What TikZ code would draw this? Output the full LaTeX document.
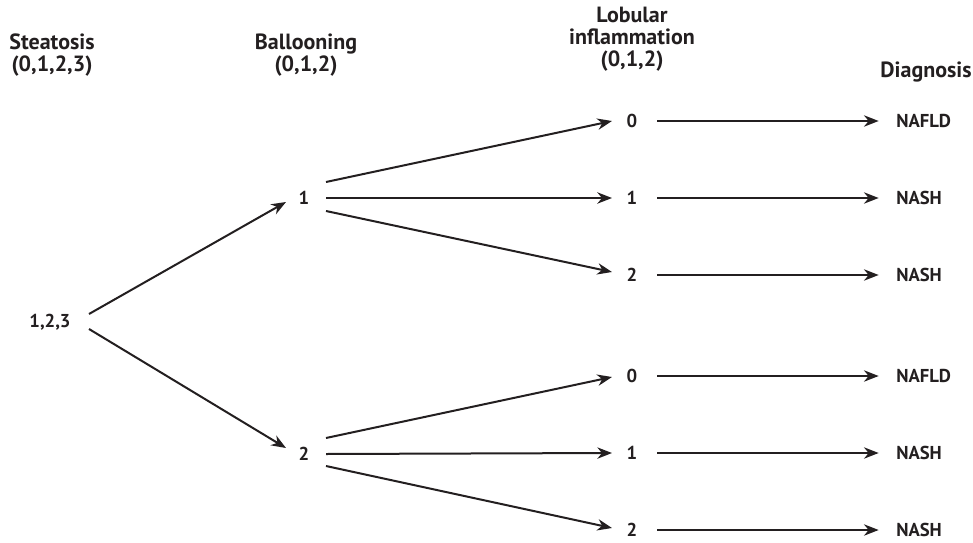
\documentclass[tikz,border=0pt]{standalone}
\usepackage{fontspec}
\setmainfont{PT Sans}
\usetikzlibrary{arrows.meta}
\definecolor{ink}{HTML}{231F20}
\tikzset{
  head/.style={font=\bfseries\fontsize{16.5pt}{16.5pt}\selectfont, align=center, inner sep=0pt, text=ink},
  lbl/.style={font=\bfseries\fontsize{14pt}{16pt}\selectfont, inner sep=0pt, text=ink},
  dlbl/.style={lbl, anchor=west},
  conn/.style={draw=ink, line width=1.5pt, -{Stealth[length=11pt,width=8.5pt,inset=3.5pt]}}
}
\begin{document}
\begin{tikzpicture}[x=0.75pt,y=-0.75pt]
\useasboundingbox (0,0) rectangle (973,542);
% headers
\node[head] (hS) at (52,55) {Steatosis\\(0,1,2,3)};
\node[head] (hB) at (306,55) {Ballooning\\(0,1,2)};
\node[head] (hL) at (632,39) {Lobular\\inflammation\\(0,1,2)};
\node[head] (hD) at (926,72) {Diagnosis};
% nodes
\node[lbl] (s) at (50,322) {1,2,3};
\node[lbl] (b1) at (304,198) {1};
\node[lbl] (b2) at (304,454) {2};
\node[lbl] (l10) at (632,121) {0};
\node[lbl] (l11) at (632,198) {1};
\node[lbl] (l12) at (632,275) {2};
\node[lbl] (l20) at (632,376) {0};
\node[lbl] (l21) at (632,453) {1};
\node[lbl] (l22) at (632,530) {2};
\node[dlbl] (d10) at (896,121) {NAFLD};
\node[dlbl] (d11) at (896,198) {NASH};
\node[dlbl] (d12) at (896,275) {NASH};
\node[dlbl] (d20) at (896,376) {NAFLD};
\node[dlbl] (d21) at (896,453) {NASH};
\node[dlbl] (d22) at (896,530) {NASH};
% connectors from steatosis
\draw[conn] ([shift={(39,-8)}]s.center) -- ([shift={(-18,4)}]b1.center);
\draw[conn] ([shift={(39,7)}]s.center) -- ([shift={(-18,-6)}]b2.center);
% from ballooning 1
\draw[conn] ([shift={(22,-16)}]b1.center) -- ([shift={(-20,0)}]l10.center);
\draw[conn] ([shift={(22,0)}]b1.center) -- ([shift={(-20,0)}]l11.center);
\draw[conn] ([shift={(22,13)}]b1.center) -- ([shift={(-20,-3)}]l12.center);
% from ballooning 2
\draw[conn] ([shift={(22,-16)}]b2.center) -- ([shift={(-20,1)}]l20.center);
\draw[conn] ([shift={(22,0)}]b2.center) -- ([shift={(-20,0)}]l21.center);
\draw[conn] ([shift={(22,12)}]b2.center) -- ([shift={(-20,-2)}]l22.center);
% to diagnosis
\draw[conn] ([xshift=19]l10.center) -- ([xshift=-13]d10.west);
\draw[conn] ([xshift=19]l11.center) -- ([xshift=-13]d11.west);
\draw[conn] ([xshift=19]l12.center) -- ([xshift=-13]d12.west);
\draw[conn] ([xshift=19]l20.center) -- ([xshift=-13]d20.west);
\draw[conn] ([xshift=19]l21.center) -- ([xshift=-13]d21.west);
\draw[conn] ([xshift=19]l22.center) -- ([xshift=-13]d22.west);
\end{tikzpicture}
\end{document}
